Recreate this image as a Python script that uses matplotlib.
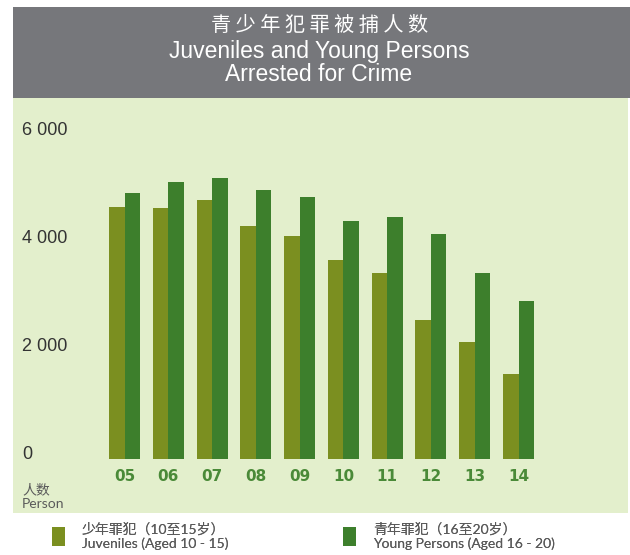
import matplotlib
matplotlib.use("Agg")
import matplotlib.pyplot as plt
from matplotlib.patches import Rectangle
import numpy as np

years = ["05", "06", "07", "08", "09", "10", "11", "12", "13", "14"]
juveniles = [4670, 4650, 4800, 4320, 4135, 3690, 3450, 2565, 2160, 1570]
young_persons = [4930, 5130, 5190, 4985, 4840, 4395, 4485, 4170, 3435, 2915]
y_ticks = [0, 2000, 4000, 6000]
y_tick_labels = ["0", "2 000", "4 000", "6 000"]

title_zh = "青 少 年 犯 罪 被 捕 人 数"
title_en = "Juveniles and Young Persons\nArrested for Crime"
label_juv = "少年罪犯（10至15岁）\nJuveniles (Aged 10 - 15)"
label_young = "青年罪犯（16至20岁）\nYoung Persons (Aged 16 - 20)"

C_JUV = "#7b8f20"
C_YOUNG = "#3d7f2c"
C_BG = "#e3efcc"
C_HEAD = "#76777b"
C_TXT = "#5a5a5a"

W, H = 630, 555
fig = plt.figure(figsize=(W / 100, H / 100), dpi=100)
fig.patch.set_facecolor("white")

def fx(px):
    return px / W

def fy(py):
    return 1 - py / H

# background panels
fig.add_artist(Rectangle((fx(13), fy(97.7)), fx(630) - fx(13), fy(7) - fy(97.7),
                         transform=fig.transFigure, facecolor=C_HEAD, edgecolor="none", zorder=0))
fig.add_artist(Rectangle((fx(13), fy(513)), fx(628) - fx(13), fy(97.7) - fy(513),
                         transform=fig.transFigure, facecolor=C_BG, edgecolor="none", zorder=0))

# titles
fig.text(fx(320), fy(25), title_zh, ha="center", va="center", color="white",
         fontsize=14.5, family=["Noto Sans CJK SC", "DejaVu Sans"])
fig.text(fx(319), fy(63), title_en, ha="center", va="center", color="white",
         fontsize=16.5, family=["Liberation Sans"], linespacing=0.98)

# axes
left, right, bottom, top = 80, 560, 459, 134.7
ax = fig.add_axes([fx(left), fy(bottom), fx(right) - fx(left), fy(top) - fy(bottom)])
ax.set_facecolor("none")
for s in ax.spines.values():
    s.set_visible(False)

x = np.arange(len(years))
step = 43.78
x0 = (left - 124.5) / step
ax.set_xlim(x0, x0 + (right - left) / step)
ax.set_ylim(0, 6000)
bw = 15.5 / step
b1 = ax.bar(x - bw / 2, juveniles, width=bw, color=C_JUV, label=label_juv)
b2 = ax.bar(x + bw / 2, young_persons, width=bw, color=C_YOUNG, label=label_young)

ax.set_yticks(y_ticks)
ax.set_yticklabels(y_tick_labels, fontsize=13, family=["Liberation Sans"], color="#333333")
for t in ax.get_yticklabels():
    t.set_horizontalalignment("left")
    t.set_verticalalignment("baseline")
ax.tick_params(axis="y", length=0, pad=(left - 22) * 0.72)

ax.set_xticks(x)
ax.set_xticklabels(years, fontsize=11, fontweight="bold", color="#4a8a38", family=["DejaVu Sans"])
ax.tick_params(axis="x", length=0, pad=10 * 0.72)

# unit label
fig.text(fx(22), fy(490), "人数", ha="left", va="center", fontsize=10,
         color=C_TXT, family=["Noto Sans CJK SC"])
fig.text(fx(22), fy(504), "Person", ha="left", va="center", fontsize=10,
         color=C_TXT, family=["Lato", "Noto Sans CJK SC"])

# legends
fs = 10
for handle, lab, xpx in [(b1, label_juv, 52), (b2, label_young, 343)]:
    lg = fig.legend(handles=[handle], labels=[lab], loc="upper left",
                    bbox_to_anchor=(fx(xpx), fy(522)), frameon=False,
                    borderpad=0, borderaxespad=0, handlelength=13 / 13.9,
                    handleheight=25 / 13.9, handletextpad=1.2,
                    prop={"family": ["Lato", "Noto Sans CJK SC"], "size": fs})
    for t in lg.get_texts():
        t.set_color(C_TXT)
        t.set_linespacing(1.2)
    fig.add_artist(lg)

fig.savefig("out.png", dpi=100, facecolor="white")
